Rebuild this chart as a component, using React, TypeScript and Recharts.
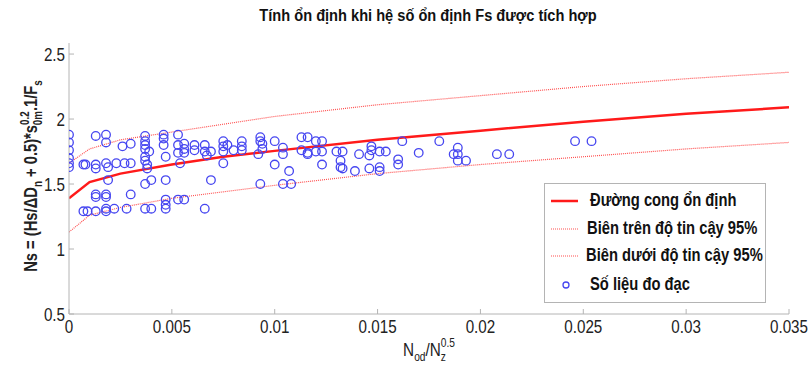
import React from "react";
import {
  ComposedChart,
  Line,
  Scatter,
  XAxis,
  YAxis,
  Legend,
} from "recharts";

const curveX = [0, 0.001, 0.0025, 0.005, 0.0075, 0.01, 0.015, 0.02, 0.025, 0.03, 0.035];
const stableY = [1.39, 1.515, 1.58, 1.65, 1.71, 1.755, 1.84, 1.91, 1.98, 2.04, 2.09];
const upperY = [1.66, 1.77, 1.84, 1.9, 1.96, 2.02, 2.11, 2.18, 2.25, 2.31, 2.36];
const lowerY = [1.13, 1.26, 1.32, 1.39, 1.44, 1.49, 1.58, 1.65, 1.71, 1.77, 1.82];

// số liệu đo đạc [x, Ns]
const measured: [number, number][] = [
  [0, 1.88], [0, 1.82], [0, 1.76], [0, 1.7], [0, 1.66], [0, 1.63],
  [0.0007, 1.65], [0.0008, 1.65], [0.0013, 1.65], [0.0013, 1.62], [0.0013, 1.87],
  [0.0018, 1.88], [0.0018, 1.82], [0.0026, 1.79], [0.003, 1.81],
  [0.0018, 1.66], [0.0019, 1.63], [0.0023, 1.66], [0.0027, 1.66], [0.003, 1.66],
  [0.0019, 1.53],
  [0.0037, 1.87], [0.0037, 1.83], [0.0037, 1.8], [0.0037, 1.77], [0.0037, 1.71],
  [0.0037, 1.68], [0.0038, 1.65], [0.0038, 1.62], [0.0039, 1.75],
  [0.0046, 1.88], [0.0046, 1.85], [0.0046, 1.8], [0.0047, 1.71],
  [0.0053, 1.88], [0.0053, 1.8], [0.0053, 1.74], [0.0054, 1.66],
  [0.0056, 1.81], [0.0056, 1.77], [0.0056, 1.74],
  [0.0061, 1.8], [0.0061, 1.76],
  [0.0066, 1.8], [0.0066, 1.75], [0.0067, 1.72], [0.0069, 1.75],
  [0.0075, 1.83], [0.0075, 1.79], [0.0075, 1.75], [0.0075, 1.66],
  [0.0077, 1.8], [0.008, 1.76],
  [0.0084, 1.83], [0.0084, 1.79], [0.0084, 1.76],
  [0.004, 1.53], [0.0037, 1.5], [0.0047, 1.53], [0.0069, 1.53],
  [0.0013, 1.42], [0.0013, 1.4], [0.0018, 1.42], [0.0018, 1.4], [0.003, 1.42],
  [0.0007, 1.29], [0.0009, 1.29], [0.0013, 1.29], [0.0018, 1.31], [0.0018, 1.29],
  [0.0022, 1.31], [0.0028, 1.31], [0.0037, 1.31], [0.004, 1.31],
  [0.0047, 1.38], [0.0047, 1.34], [0.0047, 1.31],
  [0.0053, 1.38], [0.0056, 1.38], [0.0066, 1.31],
  [0.0093, 1.86], [0.0093, 1.83], [0.0094, 1.81], [0.0094, 1.77], [0.0092, 1.73],
  [0.01, 1.83], [0.0104, 1.78], [0.0104, 1.73], [0.01, 1.65], [0.0107, 1.6],
  [0.0093, 1.5], [0.0104, 1.5], [0.0108, 1.5],
  [0.0113, 1.86], [0.0116, 1.86], [0.0113, 1.76], [0.0116, 1.74], [0.0116, 1.73],
  [0.012, 1.83], [0.0123, 1.83], [0.012, 1.75], [0.0123, 1.75], [0.0123, 1.65],
  [0.013, 1.75], [0.0133, 1.75], [0.0132, 1.68], [0.0132, 1.63], [0.0133, 1.62],
  [0.0139, 1.6], [0.0141, 1.73],
  [0.0147, 1.79], [0.0147, 1.76], [0.0146, 1.72], [0.0146, 1.62],
  [0.0151, 1.75], [0.0154, 1.75], [0.0151, 1.63], [0.0151, 1.6],
  [0.016, 1.69], [0.016, 1.65], [0.0162, 1.83], [0.017, 1.74], [0.018, 1.83],
  [0.0189, 1.78], [0.0187, 1.73], [0.0189, 1.73], [0.0189, 1.68], [0.0193, 1.68],
  [0.0208, 1.73], [0.0214, 1.73], [0.0246, 1.83], [0.0254, 1.83],
];

const xTicks = [0, 0.005, 0.01, 0.015, 0.02, 0.025, 0.03, 0.035];
const yTicks = [0.5, 1, 1.5, 2, 2.5];

const legendLabels = [
  "Đường cong ổn định",
  "Biên trên độ tin cậy 95%",
  "Biên dưới độ tin cậy 95%",
  "Số liệu đo đạc",
];

const stableData = curveX.map((x, i) => ({ x, y: stableY[i] }));
const upperData = curveX.map((x, i) => ({ x, y: upperY[i] }));
const lowerData = curveX.map((x, i) => ({ x, y: lowerY[i] }));
const pointData = measured.map(([x, y]) => ({ x, y }));

const FONT = "'Liberation Sans', Arial, sans-serif";
const AXIS = "#b4b4b4";
const BLUE = "#4646f0";
const RED = "#ff1a1a";
const PINK = "#ff5050";

// chữ hẹp kiểu Arial Narrow
function NarrowTick(props: any) {
  const { x, y, payload, textAnchor, verticalAnchor } = props;
  const dy = verticalAnchor === "start" ? "0.71em" : "0.355em";
  return (
    <g transform={`translate(${x},${y})`}>
      <text transform="scale(0.8,1)" textAnchor={textAnchor} dy={dy} fontFamily={FONT} fontSize={19} fill="#222">
        {String(payload.value)}
      </text>
    </g>
  );
}

function YLabel() {
  return (
    <g transform="translate(37, 176) rotate(-90) scale(0.82,1)">
      <text textAnchor="middle" fontFamily={FONT} fontSize={18} fontWeight="bold" fill="#222">
        Ns = (Hs/ΔD<tspan fontSize={12} dy={5}>n</tspan>
        <tspan dy={-5}> + 0.5)*s</tspan>
        <tspan fontSize={12} dy={-8}>0.2</tspan>
        <tspan fontSize={12} dx={-17} dy={13}>0m</tspan>
        <tspan dy={-5}>.1/F</tspan>
        <tspan fontSize={12} dy={5}>s</tspan>
      </text>
    </g>
  );
}

function LegendBox() {
  const rows = [18, 46, 73, 102];
  const textX = [46, 43, 42, 46];
  return (
    <svg width={222} height={120} style={{ display: "block", overflow: "visible" }}>
      <rect x={0.5} y={0.5} width={221} height={119} fill="#fff" stroke={AXIS} />
      <line x1={7} x2={34} y1={rows[0]} y2={rows[0]} stroke={RED} strokeWidth={2.5} />
      <line x1={7} x2={34} y1={rows[1]} y2={rows[1]} stroke={PINK} strokeWidth={1.2} strokeDasharray="1 1" />
      <line x1={7} x2={34} y1={rows[2]} y2={rows[2]} stroke={PINK} strokeWidth={1.2} strokeDasharray="1 1" />
      <circle cx={22} cy={rows[3]} r={3} fill="none" stroke={BLUE} strokeWidth={1.3} />
      {legendLabels.map((t, i) => (
        <g key={t} transform={`translate(${textX[i]},${rows[i] + 5}) scale(0.82,1)`}>
          <text fontFamily={FONT} fontSize={18} fontWeight="bold" fill="#111">
            {t}
          </text>
        </g>
      ))}
    </svg>
  );
}

export default function App() {
  return (
    <div style={{ position: "absolute", left: 0, top: 0, width: 811, height: 370, background: "#fff" }}>
      <ComposedChart width={811} height={370} margin={{ top: 43, right: 22, bottom: 0, left: 0 }}>
        <XAxis
          xAxisId="b"
          dataKey="x"
          type="number"
          domain={[0, 0.035]}
          ticks={xTicks}
          allowDataOverflow
          height={56}
          tickSize={-5}
          tickMargin={11}
          stroke={AXIS}
          tick={<NarrowTick />}
        />
        <XAxis
          xAxisId="t"
          orientation="top"
          dataKey="x"
          type="number"
          domain={[0, 0.035]}
          ticks={xTicks}
          height={0}
          tickSize={-5}
          tick={false}
          stroke={AXIS}
        />
        <YAxis
          yAxisId="l"
          type="number"
          domain={[0.5, 2.585]}
          ticks={yTicks}
          allowDataOverflow
          width={69}
          tickSize={-5}
          tickMargin={9}
          stroke={AXIS}
          tick={<NarrowTick />}
          label={<YLabel />}
        />
        <YAxis
          yAxisId="r"
          orientation="right"
          type="number"
          domain={[0.5, 2.585]}
          ticks={yTicks}
          width={0}
          tickSize={-5}
          tick={false}
          stroke={AXIS}
        />
        <Line
          xAxisId="b"
          yAxisId="l"
          data={upperData}
          dataKey="y"
          stroke={PINK}
          strokeWidth={1.2}
          strokeDasharray="1 1"
          dot={false}
          isAnimationActive={false}
        />
        <Line
          xAxisId="b"
          yAxisId="l"
          data={lowerData}
          dataKey="y"
          stroke={PINK}
          strokeWidth={1.2}
          strokeDasharray="1 1"
          dot={false}
          isAnimationActive={false}
        />
        <Line
          xAxisId="b"
          yAxisId="l"
          data={stableData}
          dataKey="y"
          stroke={RED}
          strokeWidth={2.5}
          dot={false}
          isAnimationActive={false}
        />
        <Scatter
          xAxisId="b"
          yAxisId="l"
          data={pointData}
          dataKey="y"
          isAnimationActive={false}
          shape={(p: any) => (
            <circle cx={p.cx} cy={p.cy} r={4.3} fill="none" stroke={BLUE} strokeWidth={1.3} />
          )}
        />
        <Legend
          layout="vertical"
          align="center"
          verticalAlign="middle"
          wrapperStyle={{ left: 544, top: 183, width: 222, height: 120 }}
          content={() => <LegendBox />}
        />
      </ComposedChart>
      <svg width={811} height={370} style={{ position: "absolute", left: 0, top: 0, pointerEvents: "none" }}>
        <g transform="translate(428, 21) scale(0.86,1)">
          <text textAnchor="middle" fontFamily={FONT} fontSize={17} fontWeight="bold" fill="#111">
            Tính ổn định khi hệ số ổn định Fs được tích hợp
          </text>
        </g>
        <g transform="translate(429, 356) scale(0.85,1)">
          <text textAnchor="middle" fontFamily={FONT} fontSize={18} fill="#222">
            N<tspan fontSize={12} dy={5}>od</tspan>
            <tspan dy={-5}>/N</tspan>
            <tspan fontSize={12} dy={5}>z</tspan>
            <tspan fontSize={12} dx={-6} dy={-14}>0.5</tspan>
          </text>
        </g>
      </svg>
    </div>
  );
}
